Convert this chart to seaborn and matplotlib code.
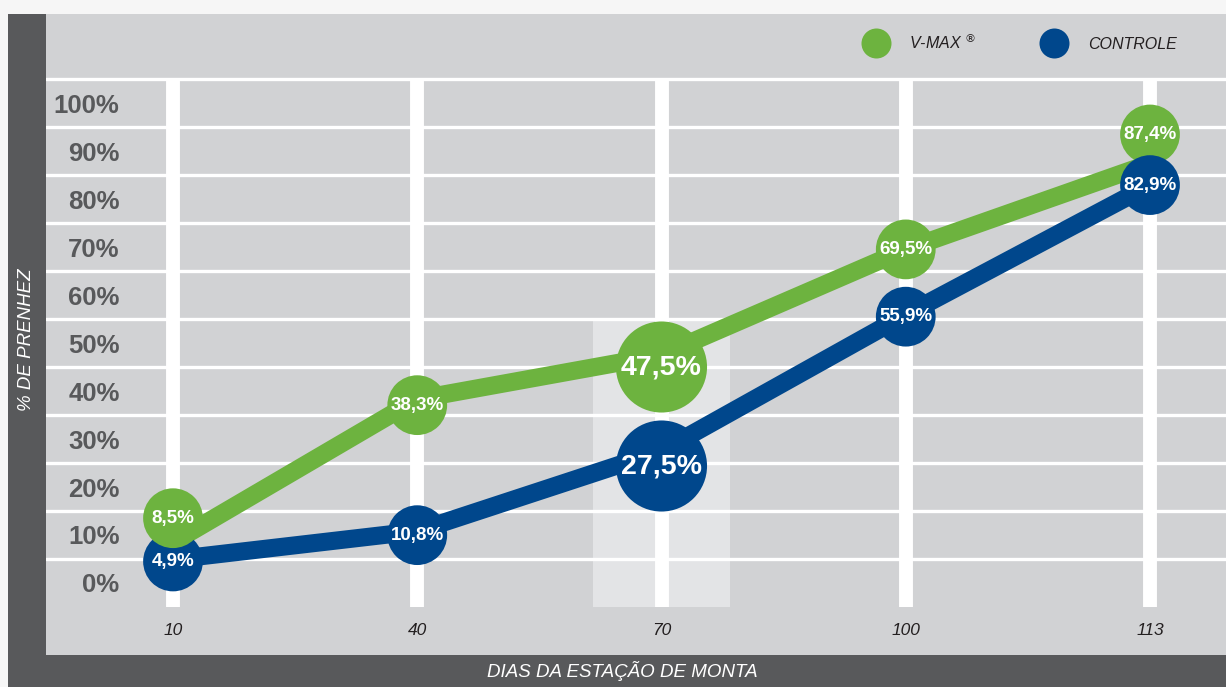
import numpy as np
import pandas as pd
import matplotlib
matplotlib.use("Agg")
import matplotlib.pyplot as plt
import matplotlib.transforms as mtransforms
from matplotlib.patches import Rectangle
from matplotlib.lines import Line2D
import seaborn as sns

# ---------------- data ----------------
days = ["10", "40", "70", "100", "113"]
vmax = [8.5, 38.3, 47.5, 69.5, 87.4]
controle = [4.9, 10.8, 27.5, 55.9, 82.9]
value_labels_vmax = ["8,5%", "38,3%", "47,5%", "69,5%", "87,4%"]
value_labels_controle = ["4,9%", "10,8%", "27,5%", "55,9%", "82,9%"]
y_ticks = [0, 10, 20, 30, 40, 50, 60, 70, 80, 90, 100]
y_tick_labels = ["0%", "10%", "20%", "30%", "40%", "50%", "60%", "70%", "80%", "90%", "100%"]
series_names = ["V-MAX", "CONTROLE"]

# ---------------- style ----------------
GREEN = "#6db33f"
BLUE = "#00478c"
BG = "#d1d2d4"
DARK = "#58595b"
HILITE = "#e3e4e6"
highlight_index = 2
# vertical nudges (pixels) to keep overlapping bubbles readable
nudge_vmax = [24, -6, -12, 0, 29]
nudge_controle = [-2, -4, -15, -2, 0]

sns.set_style("white")
NARROW = ["Liberation Sans Narrow", "Liberation Sans", "DejaVu Sans"]
SANS = ["Liberation Sans", "DejaVu Sans"]
plt.rcParams["font.family"] = SANS

W, H = 1226, 687
fig = plt.figure(figsize=(W / 100, H / 100), dpi=100, facecolor="#f6f6f6")

# dark frame bands
fig.patches.append(Rectangle((8 / W, 0), 38 / W, (H - 14) / H, transform=fig.transFigure,
                             facecolor=DARK, edgecolor="none", zorder=0))
fig.patches.append(Rectangle((8 / W, 0), (W - 8) / W, 32 / H, transform=fig.transFigure,
                             facecolor=DARK, edgecolor="none", zorder=0))

ax = fig.add_axes([46 / W, 32 / H, (W - 46) / W, (655 - 14) / H])
ax.set_facecolor(BG)
for s in ax.spines.values():
    s.set_visible(False)

n = len(days)
pos = np.arange(n)
px_per = 4.8
y0_px = 583
ax.set_ylim(-(655 - y0_px) / px_per, (y0_px - 14) / px_per)
x_px = 173
step = 244.25
ax.set_xlim(-(x_px - 46) / step, (W - x_px) / step)

# highlight band
ax.add_patch(Rectangle((highlight_index - 0.28, -5), 0.56, 60, facecolor=HILITE,
                       edgecolor="none", zorder=0.5))

# grid
for lv in np.array(y_ticks[1:]) - 5:
    ax.axhline(lv, color="white", lw=2.4, zorder=1)
ax.axhline(y_ticks[-1] + 5, color="white", lw=2.4, zorder=1)
ax.vlines(pos, -5, y_ticks[-1] + 5, color="white", lw=10, zorder=1)

# lines
df = pd.DataFrame({
    "pos": np.concatenate([pos, pos]),
    "value": vmax + controle,
    "series": [series_names[0]] * n + [series_names[1]] * n,
})
sns.lineplot(data=df, x="pos", y="value", hue="series", palette=[GREEN, BLUE],
             linewidth=13, legend=False, ax=ax, sort=False, zorder=2,
             solid_capstyle="butt")

# bubbles + labels
for i in range(n):
    for vals, labs, nud, col, z in [
        (vmax, value_labels_vmax, nudge_vmax, GREEN, 3 if i != 0 else 5),
        (controle, value_labels_controle, nudge_controle, BLUE, 4),
    ]:
        tr = mtransforms.offset_copy(ax.transData, fig=fig, x=0, y=nud[i], units="dots")
        big = i == highlight_index
        ax.scatter([pos[i]], [vals[i]], s=4300 if big else 1850, color=col,
                   edgecolors="none", transform=tr, zorder=z)
        ax.text(pos[i], vals[i], labs[i], transform=tr, ha="center", va="center",
                color="white", fontweight="bold", family=NARROW,
                fontsize=20.5 if big else 13.5, zorder=z + 0.1)

# ticks
ax.set_yticks(y_ticks, y_tick_labels)
ax.set_xticks(pos, days)
ax.tick_params(axis="y", length=0, pad=-53, labelsize=18.5, labelcolor=DARK)
for t in ax.get_yticklabels():
    t.set_fontfamily(NARROW)
    t.set_fontweight("bold")
ax.tick_params(axis="x", length=0, pad=-23, labelsize=12.5, labelcolor="#231f20")
for t in ax.get_xticklabels():
    t.set_fontstyle("italic")
ax.set_xlabel("")
ax.set_ylabel("")

# axis titles in dark bands
fig.text(622 / W, (H - 671) / H, "DIAS DA ESTAÇÃO DE MONTA", color="white", fontsize=13.5,
         fontstyle="italic", ha="center", va="center")
fig.text(27 / W, (H - 340) / H, "% DE PRENHEZ", color="white", fontsize=13.5,
         fontstyle="italic", ha="center", va="center", rotation=90)

# legend
handles = [Line2D([], [], marker="o", linestyle="none", markersize=21.6,
                  markerfacecolor=GREEN, markeredgecolor="none"),
           Line2D([], [], marker="o", linestyle="none", markersize=21.6,
                  markerfacecolor=BLUE, markeredgecolor="none")]
leg = fig.legend(handles, ["V-MAX $^{®}$", "CONTROLE"], ncol=2, loc="center left",
                 bbox_to_anchor=(863 / W, (H - 42) / H), frameon=False,
                 borderaxespad=0, borderpad=0, handlelength=1.6, handletextpad=1.3,
                 columnspacing=4.1, prop={"style": "italic", "size": 11.5})
for t in leg.get_texts():
    t.set_color("#231f20")

fig.savefig("out.png", dpi=100, facecolor=fig.get_facecolor())
